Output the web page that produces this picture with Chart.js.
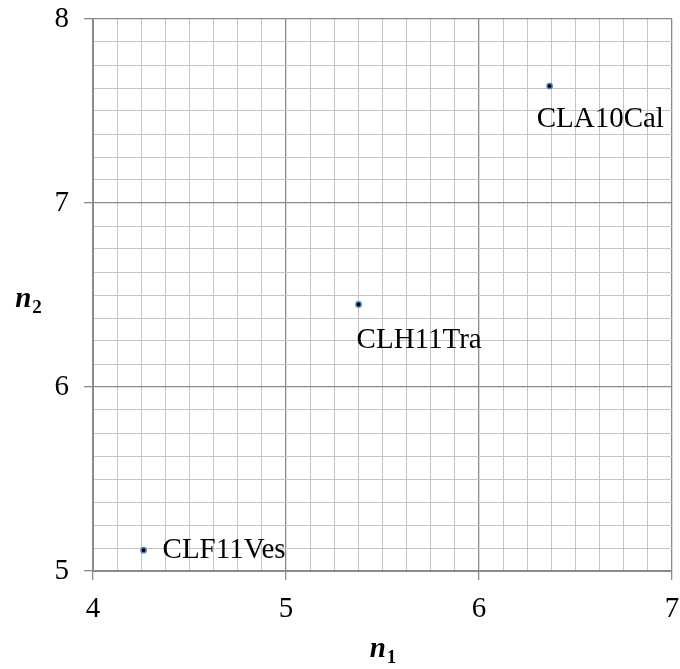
<!DOCTYPE html>
<html>
<head>
<meta charset="utf-8">
<script src="https://cdn.jsdelivr.net/npm/chart.js@4/dist/chart.umd.min.js"></script>
<style>
  html, body { margin: 0; padding: 0; background: #fff; }
  #wrap { width: 680px; height: 669px; }
</style>
</head>
<body>
<div id="wrap"><canvas id="c" width="680" height="669"></canvas></div>
<script>
// Samples plotted on the n1 / n2 plane
const sampleNames = ['CLF11Ves', 'CLH11Tra', 'CLA10Cal'];
const n1Values = [4.262, 5.376, 6.366];
const n2Values = [5.113, 6.449, 7.636];

// Axis ranges and tick labels
const xRange = [4, 7];
const yRange = [5, 8];
const xTickLabels = ['4', '5', '6', '7'];
const yTickLabels = ['5', '6', '7', '8'];
const gridStep = 0.125;

// Where each label sits relative to its point (dx, dy in px, alignment)
const labelPlacement = [
  { dx: 19, dy: 0, align: 'left', baseline: 'middle' },
  { dx: -2, dy: 36, align: 'left', baseline: 'middle' },
  { dx: -13, dy: 33, align: 'left', baseline: 'middle' }
];

const serif = '"Liberation Serif", "Times New Roman", serif';
const isMajor = v => Math.abs(v - Math.round(v)) < 1e-9;

const pointLabels = {
  id: 'pointLabels',
  afterDatasetsDraw(chart) {
    const ctx = chart.ctx;
    const xs = chart.scales.x, ys = chart.scales.y;
    ctx.save();
    ctx.fillStyle = '#000';
    ctx.font = '29px ' + serif;
    sampleNames.forEach((name, i) => {
      const p = labelPlacement[i];
      ctx.textAlign = p.align;
      ctx.textBaseline = p.baseline;
      ctx.fillText(name, xs.getPixelForValue(n1Values[i]) + p.dx, ys.getPixelForValue(n2Values[i]) + p.dy);
    });
    ctx.restore();
  }
};

// Axis titles n1 and n2 with subscripts
const axisTitles = {
  id: 'axisTitles',
  afterDraw(chart) {
    const ctx = chart.ctx;
    const a = chart.chartArea;
    const drawSub = (base, sub, cx, baseline) => {
      ctx.font = 'italic bold 29px ' + serif;
      const w1 = ctx.measureText(base).width;
      ctx.font = 'bold 19px ' + serif;
      const w2 = ctx.measureText(sub).width;
      const x0 = cx - (w1 + w2) / 2;
      ctx.textAlign = 'left';
      ctx.textBaseline = 'alphabetic';
      ctx.font = 'italic bold 29px ' + serif;
      ctx.fillText(base, x0, baseline);
      ctx.font = 'bold 19px ' + serif;
      ctx.fillText(sub, x0 + w1 + 1, baseline + 6);
    };
    ctx.save();
    ctx.fillStyle = '#000';
    drawSub('n', '1', (a.left + a.right) / 2, 657);
    drawSub('n', '2', 28, 307);
    ctx.restore();
  }
};

const labelFor = (labels, range) => v => {
  if (!isMajor(v)) return '';
  const idx = Math.round(v) - range[0];
  return labels[idx] !== undefined ? labels[idx] : '';
};

new Chart(document.getElementById('c'), {
  type: 'scatter',
  data: {
    datasets: [{
      data: n1Values.map((x, i) => ({ x, y: n2Values[i] })),
      pointRadius: 2.6,
      pointHoverRadius: 2.6,
      backgroundColor: '#000',
      borderColor: '#4f81bd',
      borderWidth: 1.5
    }]
  },
  options: {
    responsive: false,
    animation: false,
    layout: { padding: { left: 0, right: 8, top: 19, bottom: 0 } },
    plugins: { legend: { display: false }, tooltip: { enabled: false } },
    scales: {
      x: {
        type: 'linear',
        min: xRange[0], max: xRange[1],
        afterFit(s) { s.height = 98; s.paddingRight = 0; s.paddingLeft = 0; },
        afterBuildTicks(s) {
          const t = [];
          for (let v = xRange[0]; v <= xRange[1] + 1e-9; v += gridStep) t.push({ value: v });
          s.ticks = t;
        },
        ticks: {
          autoSkip: false, maxRotation: 0,
          color: '#000', font: { family: serif, size: 29 },
          padding: 12,
          callback: labelFor(xTickLabels, xRange)
        },
        grid: {
          color: c => isMajor(c.tick.value) ? '#8a8a8a' : '#c4c4c4',
          lineWidth: c => isMajor(c.tick.value) ? 1.3 : 1,
          tickColor: c => isMajor(c.tick.value) ? '#8a8a8a' : 'rgba(0,0,0,0)',
          tickLength: 9
        },
        border: { color: '#8a8a8a', width: 2 }
      },
      y: {
        type: 'linear',
        min: yRange[0], max: yRange[1],
        afterFit(s) { s.width = 93; s.paddingTop = 0; s.paddingBottom = 0; },
        afterBuildTicks(s) {
          const t = [];
          for (let v = yRange[0]; v <= yRange[1] + 1e-9; v += gridStep) t.push({ value: v });
          s.ticks = t;
        },
        ticks: {
          autoSkip: false,
          color: '#000', font: { family: serif, size: 29 },
          padding: 15,
          callback: labelFor(yTickLabels, yRange)
        },
        grid: {
          color: c => isMajor(c.tick.value) ? '#8a8a8a' : '#c4c4c4',
          lineWidth: c => isMajor(c.tick.value) ? 1.3 : 1,
          tickColor: c => isMajor(c.tick.value) ? '#8a8a8a' : 'rgba(0,0,0,0)',
          tickLength: 9
        },
        border: { color: '#8a8a8a', width: 2 }
      }
    }
  },
  plugins: [pointLabels, axisTitles]
});
</script>
</body>
</html>
